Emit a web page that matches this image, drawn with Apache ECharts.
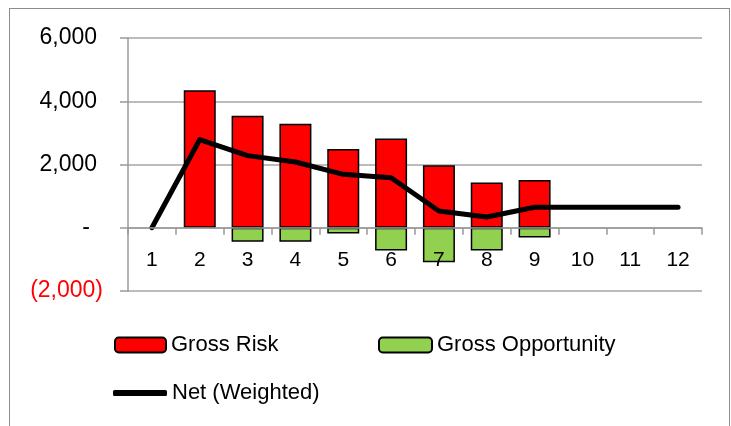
<!DOCTYPE html>
<html>
<head>
<meta charset="utf-8">
<script src="https://cdn.jsdelivr.net/npm/echarts@6/dist/echarts.min.js"></script>
<style>
  html, body { margin: 0; padding: 0; background: #fff; }
  #wrap { position: relative; width: 731px; height: 426px; }
  #chart { width: 731px; height: 426px; }
  #frame { position: absolute; left: 9px; top: 8px; width: 719px; height: 430px;
           border: 1.5px solid #8c8c8c; pointer-events: none; }
</style>
</head>
<body>
<div id="wrap">
  <div id="chart"></div>
  <div id="frame"></div>
</div>
<script>
// months
const categories = ['1', '2', '3', '4', '5', '6', '7', '8', '9', '10', '11', '12']
// ('-' = no bar)
const grossRisk = ['-', 4350, 3540, 3290, 2490, 2820, 1980, 1430, 1510, '-', '-', '-']
const grossOpportunity = ['-', '-', -440, -440, -185, -720, -1090, -720, -310, '-', '-', '-']
const netWeighted = [0, 2790, 2280, 2080, 1690, 1580, 530, 340, 650, 650, 650, 650]
const yTicks = [-2000, 0, 2000, 4000, 6000]

const fmt = (v) => {
  v = Number(v)
  if (v === 0) return '{z|-}'
  if (v < 0) return '(' + Math.abs(v).toLocaleString('en-US') + ')'
  return '{p|' + v.toLocaleString('en-US') + '}'
}

const chart = echarts.init(document.getElementById('chart'))
const font = 'Liberation Sans, Arial, sans-serif'
const gridTop = 38
const gridBottom = 135
const plotH = 426 - gridTop - gridBottom
// x axis sits on the zero line, labels right under it
const zeroOffset = -plotH * (0 - yTicks[0]) / (yTicks[yTicks.length - 1] - yTicks[0])

const option = {
  animation: false,
  textStyle: { fontFamily: font },
  grid: { left: 128, right: 29, top: gridTop, bottom: gridBottom },
  legend: [
    {
      data: ['Gross Risk'], left: 114, top: 334, padding: 0,
      itemWidth: 51, itemHeight: 15,
      textStyle: { fontSize: 22, color: '#000', fontFamily: font },
    },
    {
      data: ['Gross Opportunity'], left: 378, top: 334, padding: 0,
      itemWidth: 53, itemHeight: 15,
      textStyle: { fontSize: 22, color: '#000', fontFamily: font },
    },
    {
      data: [{ name: 'Net (Weighted)', icon: 'roundRect' }], left: 113, top: 382, padding: 0,
      itemWidth: 54, itemHeight: 6,
      textStyle: { fontSize: 22, color: '#000', fontFamily: font },
    },
  ],
  xAxis: {
    type: 'category',
    data: categories,
    position: 'bottom',
    offset: zeroOffset,
    z: 10,
    axisLine: { onZero: false, lineStyle: { color: '#999', width: 1.5 } },
    axisTick: { show: true, length: 7, lineStyle: { color: '#999', width: 1.5 } },
    axisLabel: { fontSize: 21, color: '#000', margin: 22, fontFamily: font },
  },
  yAxis: {
    type: 'value',
    min: yTicks[0],
    max: yTicks[yTicks.length - 1],
    interval: 2000,
    axisLine: { show: true, lineStyle: { color: '#999', width: 1.5 } },
    axisTick: { show: true, length: 8, lineStyle: { color: '#999', width: 1.5 } },
    splitLine: { lineStyle: { color: '#a6a6a6', width: 1.5 } },
    axisLabel: {
      fontSize: 23,
      margin: 25,
      fontFamily: font,
      formatter: fmt,
      color: (v) => (Number(v) < 0 ? '#ff0000' : '#000'),
      rich: {
        p: { fontSize: 23, padding: [0, 6, 0, 0], fontFamily: font },
        z: { fontSize: 23, padding: [0, 13, 0, 0], fontFamily: font },
      },
    },
  },
  series: [
    {
      name: 'Gross Risk', type: 'bar', data: grossRisk,
      barWidth: 32, barGap: '-100%',
      itemStyle: { color: '#ff0000', borderColor: '#000', borderWidth: 1.5 },
    },
    {
      name: 'Gross Opportunity', type: 'bar', data: grossOpportunity,
      barWidth: 32, barGap: '-100%',
      itemStyle: { color: '#92d050', borderColor: '#000', borderWidth: 1.5 },
    },
    {
      name: 'Net (Weighted)', type: 'line', data: netWeighted,
      showSymbol: false, symbol: 'none', z: 5,
      itemStyle: { color: '#000' },
      lineStyle: { color: '#000', width: 5, cap: 'round', join: 'round' },
    },
  ],
}
chart.setOption(option)
</script>
</body>
</html>
